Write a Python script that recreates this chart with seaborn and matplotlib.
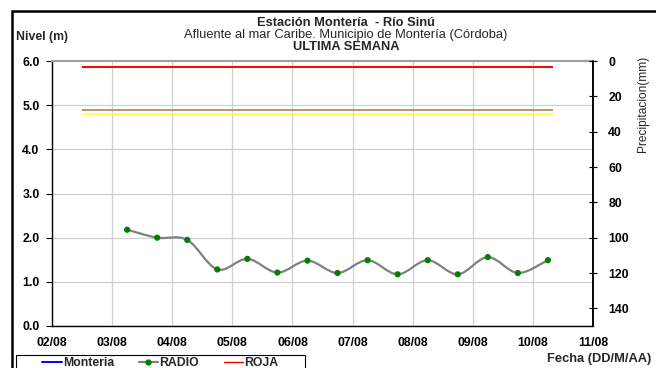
import matplotlib.pyplot as plt
import matplotlib.dates as mdates
import numpy as np
import pandas as pd
import seaborn as sns
from matplotlib.lines import Line2D
from matplotlib.patches import PathPatch, Rectangle
from matplotlib.path import Path

sns.set_theme(style="white")
plt.rcParams['font.family'] = ['Liberation Sans', 'DejaVu Sans']

# RADIO level readings every 12 h
fechas = pd.date_range("2015-08-03 06:00", periods=15, freq="12h")
nivel = [2.18, 2.00, 1.95, 1.28, 1.52, 1.21, 1.48, 1.20,
         1.49, 1.17, 1.49, 1.17, 1.56, 1.20, 1.49]

# alert thresholds
umbral_nombres = ["ROJA", "NARANJA", "AMARILLA"]
umbral_valores = [5.86, 4.89, 4.79]
umbral_colores = ["#ff0000", "#b39478", "#ffff55"]
umbral_inicio = pd.Timestamp("2015-08-02 12:00")
umbral_fin = pd.Timestamp("2015-08-10 08:00")

dias = pd.date_range("2015-08-02", "2015-08-11", freq="D")
precip_ticks = [0, 20, 40, 60, 80, 100, 120, 140]

FS = 8.8
fig = plt.figure(figsize=(6.56, 3.68), dpi=100)
ax = fig.add_axes([52 / 656, 1 - 326 / 368, 541 / 656, 265 / 368])

df = pd.DataFrame({"fecha": fechas, "nivel": nivel})

# smooth (Excel style) line through the readings
xs = mdates.date2num(df["fecha"])
ys = np.asarray(nivel)
pts = np.column_stack([xs, ys])
verts = [pts[0]]
codes = [Path.MOVETO]
for i in range(len(pts) - 1):
    p0 = pts[max(i - 1, 0)]
    p1 = pts[i]
    p2 = pts[i + 1]
    p3 = pts[min(i + 2, len(pts) - 1)]
    verts += [p1 + (p2 - p0) / 6, p2 - (p3 - p1) / 6, p2]
    codes += [Path.CURVE4] * 3
ax.add_patch(PathPatch(Path(verts, codes), facecolor="none",
                       edgecolor="#808080", lw=1.6, zorder=3))
sns.scatterplot(data=df, x="fecha", y="nivel", color="#008000", s=20,
                edgecolor="none", zorder=4, ax=ax, legend=False)

for v, c in zip(umbral_valores, umbral_colores):
    ax.hlines(v, umbral_inicio, umbral_fin, color=c, lw=1.4, zorder=2)

ax.set_xlim(dias[0], dias[-1])
ax.set_ylim(0, 6)
ax.set_yticks(np.arange(0, 6.1, 1.0))
ax.set_yticklabels([f"{v:.1f}" for v in np.arange(0, 6.1, 1.0)])
ax.set_xticks(dias)
ax.xaxis.set_major_formatter(mdates.DateFormatter("%d/%m"))
ax.set_xlabel("")
ax.set_ylabel("")
ax.grid(True, color="#d0d0d0", lw=0.9)
ax.tick_params(axis="both", labelsize=FS, colors="black")
ax.tick_params(axis="x", direction="out", length=3, pad=5, width=0.8)
ax.tick_params(axis="y", direction="out", length=4, pad=5, width=0.8)
for lab in ax.get_xticklabels() + ax.get_yticklabels():
    lab.set_fontweight("bold")
ax.spines["top"].set_color("#a0a0a0")
ax.spines["top"].set_linewidth(1.5)
for s in ["left", "bottom"]:
    ax.spines[s].set_color("black")
    ax.spines[s].set_linewidth(1.0)

ax2 = ax.twinx()
ax2.set_ylim(150, 0)
ax2.set_yticks(precip_ticks)
ax2.tick_params(axis="y", direction="inout", length=6, pad=8, labelsize=FS,
                colors="black", width=0.8)
for lab in ax2.get_yticklabels():
    lab.set_fontweight("bold")
ax2.spines["right"].set_color("black")
ax2.spines["right"].set_linewidth(1.2)
ax2.spines["top"].set_visible(False)
ax2.spines["left"].set_visible(False)
ax2.spines["bottom"].set_visible(False)
ax2.grid(False)

cx = 346 / 656
fig.text(cx, 1 - 23 / 368, "Estación Montería  - Río Sinú", ha="center",
         va="center", fontsize=9.3, fontweight="bold")
fig.text(cx, 1 - 35 / 368, "Afluente al mar Caribe. Municipio de Montería (Córdoba)",
         ha="center", va="center", fontsize=9.3)
fig.text(cx, 1 - 47 / 368, "ULTIMA SEMANA", ha="center", va="center",
         fontsize=9.3, fontweight="bold")
fig.text(16 / 656, 1 - 37 / 368, "Nivel (m)", ha="left", va="center",
         fontsize=FS, fontweight="bold")
fig.text(643 / 656, 1 - 104 / 368, "Precipitacion(mm)", ha="center",
         va="center", rotation=90, fontsize=8.6)
fig.text(651 / 656, 1 - 359 / 368, "Fecha (DD/M/AA)", ha="right",
         va="center", fontsize=9.3, fontweight="bold")

# outer chart border
fig.patches.append(Rectangle((12 / 656, -0.2), 1.0, 1 - 11 / 368 + 0.2,
                             transform=fig.transFigure, fill=False,
                             edgecolor="black", lw=1.8))
# legend box
fig.patches.append(Rectangle((16 / 656, -0.1), 289 / 656, 0.1 + 1 - 355 / 368,
                             transform=fig.transFigure, fill=False,
                             edgecolor="black", lw=0.8))

handles = [Line2D([], [], color="#0000ff", lw=1.4),
           Line2D([], [], color="#808080", lw=1.6, marker="o",
                  markerfacecolor="#008000", markeredgecolor="#008000",
                  markersize=3.5),
           Line2D([], [], color=umbral_colores[0], lw=1.0)]
leg = fig.legend(handles, ["Monteria", "RADIO", umbral_nombres[0]], ncol=3,
                 loc="upper left", bbox_to_anchor=(41 / 656, 1 - 356 / 368),
                 borderaxespad=0, frameon=False, borderpad=0.1,
                 handlelength=1.6, handletextpad=0.1, columnspacing=2.0,
                 prop={"weight": "bold", "size": FS})

fig.savefig("out.png", dpi=100)
